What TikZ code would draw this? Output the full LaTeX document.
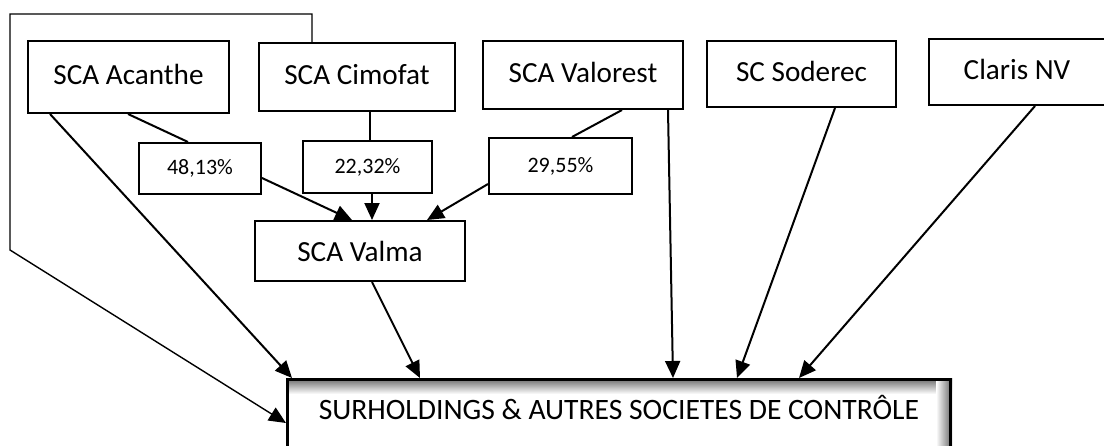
\documentclass[tikz,border=0pt]{standalone}
\usepackage{fontspec}
\setmainfont{Carlito}
\usetikzlibrary{arrows.meta,positioning,calc,backgrounds}

\tikzset{
  firm/.style={rectangle,draw,line width=1pt,anchor=north west,inner sep=0pt,
    font=\fontsize{14.6}{16}\selectfont,text depth=3pt},
  share/.style={rectangle,draw,line width=1pt,anchor=north west,inner sep=0pt,
    font=\fontsize{11}{13}\selectfont},
  link/.style={line width=1pt},
  owns/.style={line width=1pt,-{Triangle[length=8.5pt,width=7.5pt]}}
}

\begin{document}
\begin{tikzpicture}[x=0.5pt,y=-0.5pt]
    \useasboundingbox (0,0) rectangle (1104,445);
    % Holdings
\node[firm,minimum width=100.5pt,minimum height=36pt] (acanthe) at (27,40) {SCA Acanthe};
\node[firm,minimum width=98pt,minimum height=34pt] (cimofat) at (258,42) {SCA Cimofat};
\node[firm,minimum width=100pt,minimum height=34pt] (valorest) at (482,40) {SCA Valorest};
\node[firm,minimum width=94.5pt,minimum height=33pt] (soderec) at (706,40) {SC Soderec};
\node[firm,minimum width=88pt,minimum height=33pt] (claris) at (928,38) {Claris NV};
    % Shares in Valma
\node[share,minimum width=61pt,minimum height=25.5pt] (p48) at (138,142) {48,13\%};
\node[share,minimum width=64.5pt,minimum height=26pt] (p22) at (302,140) {22,32\%};
\node[share,minimum width=71.5pt,minimum height=28pt] (p29) at (488,137) {29,55\%};
\node[firm,minimum width=105pt,minimum height=30pt,text depth=0pt] (valma) at (254,220) {SCA Valma};
\node[rectangle,draw,line width=1.5pt,anchor=north west,minimum width=331.5pt,
  inner xsep=0pt,inner ysep=10pt,text height=10pt,text depth=40pt,
  font=\fontsize{14.8}{16}\selectfont] (ctrl) at (286,378) {SURHOLDINGS \& AUTRES SOCIETES DE CONTR\^OLE};
\begin{scope}[on background layer]
  \shade[top color=black!60,bottom color=white] (ctrl.north west) rectangle ([yshift=-8pt]ctrl.north east);
  \shade[left color=white,right color=black!60] ([xshift=-8pt]ctrl.north east) rectangle (ctrl.south east);
\end{scope}
    % Links
\draw[link] ([xshift=50.5pt]acanthe.south west) -- ([xshift=25pt]p48.north west);
\draw[owns] ([yshift=-4.75pt]p48.east) -- ([xshift=49pt]valma.north west);
\draw[link] ([xshift=56pt]cimofat.south west) -- ([xshift=34pt]p22.north west);
\draw[owns] ([xshift=35pt]p22.south west) -- ([xshift=59pt]valma.north west);
\draw[link] ([xshift=70pt]valorest.south west) -- ([xshift=42pt]p29.north west);
\draw[owns] ([yshift=-9pt]p29.west) -- ([xshift=-19.5pt]valma.north east);
\draw[owns] ([xshift=11.5pt]acanthe.south west) -- ([xshift=3pt]ctrl.north west);
\draw[owns] ([xshift=59pt]valma.south west) -- ([xshift=67pt]ctrl.north west);
\draw[owns] ([xshift=93pt]valorest.south west) -- ([xshift=193.5pt]ctrl.north west);
\draw[owns] ([xshift=64.5pt]soderec.south west) -- ([xshift=225.5pt]ctrl.north west);
\draw[owns] ([xshift=53.5pt]claris.south west) -- ([xshift=256.5pt]ctrl.north west);
    % Loop from Cimofat
\coordinate (loopl) at (10,14);
\coordinate (loopd) at (10,250);
\draw[owns,line width=0.7pt] ([xshift=27pt]cimofat.north west) |- (loopl) -- (loopd) -- ([yshift=-22.5pt]ctrl.north west);
\end{tikzpicture}
\end{document}
